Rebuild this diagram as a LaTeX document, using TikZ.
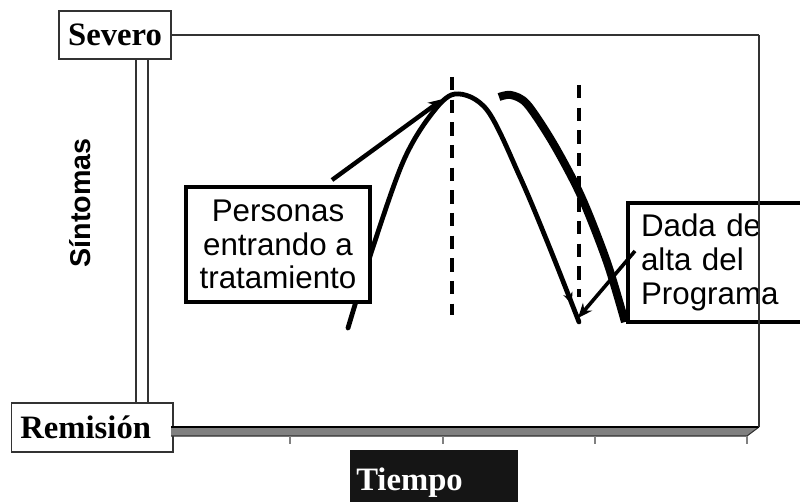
\documentclass[tikz,border=0pt]{standalone}
\usepackage{fontspec}
\setmainfont{Liberation Serif}
\setsansfont{Liberation Sans}
\usetikzlibrary{arrows.meta,decorations.markings}
\definecolor{slabgray}{HTML}{808080}
\definecolor{wallgray}{HTML}{333333}
\definecolor{tiempobg}{HTML}{151515}
\tikzset{
  axislabel/.style={draw=wallgray,line width=1pt,fill=white,font=\bfseries\fontsize{24.5}{27}\selectfont,inner sep=0pt},
  callout/.style={draw=black,line width=3pt,fill=white,font=\sffamily\fontsize{23.5}{25}\selectfont,inner sep=0pt},
  wall/.style={draw=wallgray,line width=1.1pt},
  guide/.style={line width=2.9pt,dash pattern=on 10pt off 7pt},
  pointer/.style={line width=3.3pt,-{Stealth[length=11pt,width=9pt]}},
}
\begin{document}
\begin{tikzpicture}[x=0.75pt,y=-0.75pt]
\useasboundingbox (0,0) rectangle (800,502);
% axis boxes
\node[axislabel,minimum width=84pt,minimum height=36pt] (sev) at (115,35) {Severo};
\node[axislabel,anchor=west,minimum height=36.75pt,text width=108pt,inner xsep=6.5pt,align=left] (rem) at (11,427.5) {Remisi\'on};
\node[fill=tiempobg,text=white,font=\bfseries\fontsize{24.5}{27}\selectfont,anchor=north west,text height=30pt,text depth=9pt,inner ysep=0pt,text width=117pt,inner xsep=4.5pt,align=left] (tie) at (350,450) {Tiempo};
% left wall
\coordinate (lw1t) at (136,59); \coordinate (lw1b) at (136,403);
\coordinate (lw2t) at (148,59); \coordinate (lw2b) at (148,403);
\draw[wall] (lw1t) -- (lw1b);
\draw[wall] (lw2t) -- (lw2b);
% top line
\coordinate (tr) at (759,35);
\coordinate (br) at (759,427);
\draw[wall,line width=1.5pt] (sev.east |- tr) -- (tr);
% floor slab
\coordinate (s1) at (171,427); \coordinate (s2) at (759,427);
\coordinate (s3) at (747,436); \coordinate (s4) at (171,436);
\fill[slabgray] (s1) -- (s2) -- (s3) -- (s4) -- cycle;
\draw[wallgray,line width=0.8pt] (s2) -- (s3) -- (s4);
\draw[black,line width=1.6pt] (s1) -- (s2);
\foreach \tx in {290,443,595,747}{
  \draw[slabgray,line width=1.1pt] (\tx,436) -- (\tx,444);
}
% Sintomas
\node[font=\sffamily\bfseries\fontsize{21.5}{24}\selectfont,rotate=90] (sin) at (80,203) {S\'intomas};
% dashed guides
\coordinate (d1t) at (452,77); \coordinate (d1b) at (452,315);
\coordinate (d2t) at (579,85); \coordinate (d2b) at (579,297);
\draw[guide] (d1t) -- (d1b);
\draw[guide] (d2t) -- (d2b);
% curve 1
\draw[line width=3.6pt,line cap=round,
  postaction={decorate,decoration={markings,mark=at position 0.965 with {\arrow{Stealth[length=9pt,width=7pt]}}}}]
  plot[smooth,tension=0.55] coordinates {(348,328) (373,247) (403,162) (430,116) (455,94) (487,110) (520,177) (549,246) (579,322)};
% curve 2 (thick)
\draw[line width=6pt,line cap=butt]
  plot[smooth,tension=0.5] coordinates {(499,97) (511,95) (527,104) (553,143) (581,196) (607,262) (625,322)};
% callouts
\node[callout,minimum width=138pt,minimum height=86.25pt,align=center] (per) at (278,244.5) {Personas\\entrando a\\tratamiento};
\node[callout,anchor=west,minimum height=89.25pt,text width=126pt,inner xsep=9.75pt,align=left,font=\sffamily\fontsize{23.5}{25.5}\selectfont] (dad) at (626,262.5) {Dada de\\alta del\\Programa};
% pointers
\coordinate (p1s) at (332,180); \coordinate (p1e) at (443,99);
\draw[pointer] (p1s) -- (p1e);
\coordinate (p2s) at (635,251); \coordinate (p2e) at (578,318);
\draw[pointer,line width=2.7pt] (p2s) -- (p2e);
% right wall drawn over callout
\draw[wall,line width=1.2pt] (tr) -- (br);
\end{tikzpicture}
\end{document}
